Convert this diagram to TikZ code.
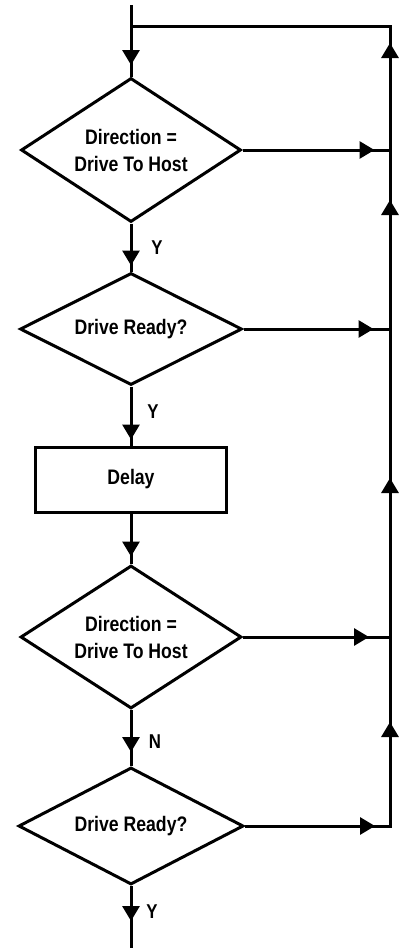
\documentclass[tikz,border=0pt]{standalone}
\usepackage{fontspec}
\setmainfont{Liberation Sans}
\usepackage{graphicx}
\usetikzlibrary{shapes.geometric,arrows.meta,decorations.markings}
\newcommand{\narrowtxt}[1]{\scalebox{0.84}[1]{#1}}
\begin{document}
\begin{tikzpicture}[x=1pt,y=-1pt,
  flow/.style={line width=3pt},
  tri/.tip={Triangle[width=17pt,length=15pt]},
  midarrow/.style={postaction={decorate},decoration={markings,mark=at position #1 with {\arrow{tri}}}},
  twoarrows/.style 2 args={postaction={decorate},decoration={markings,mark=at position #1 with {\arrow{tri}},mark=at position #2 with {\arrow{tri}}}},
  dec/.style={draw,shape=diamond,line width=3pt,inner sep=0pt,aspect=1.53,align=center,font=\fontsize{21}{27}\selectfont\bfseries},
  proc/.style={draw,rectangle,line width=3pt,minimum width=191pt,minimum height=65pt,font=\fontsize{21}{27}\selectfont\bfseries},
  lbl/.style={font=\fontsize{20}{20}\selectfont\bfseries,inner sep=0pt}
]
\useasboundingbox (0,0) rectangle (408,948);
\coordinate (start) at (131,5);
\coordinate (jtop) at (131,26);
\node[dec,minimum width=220pt,minimum height=144pt] (d1) at (131,150) {\narrowtxt{Direction =}\\\narrowtxt{Drive To Host}};
\node[dec,minimum width=222pt,minimum height=112pt] (d2) at (131,329) {\narrowtxt{Drive Ready?}};
\node[proc] (delay) at (131,479.5) {\narrowtxt{Delay}};
\node[dec,minimum width=221pt,minimum height=143pt] (d3) at (131,637) {\narrowtxt{Direction =}\\\narrowtxt{Drive To Host}};
\node[dec,minimum width=225pt,minimum height=117pt] (d4) at (131,826) {\narrowtxt{Drive Ready?}};
\coordinate (end) at (131,948);
\coordinate (r1) at (390,150);
\coordinate (r2) at (390,329);
\coordinate (r3) at (390,637);
\coordinate (r4) at (390,826);
\coordinate (rtop) at (390,26);
% main flow
\draw[flow,midarrow=60pt] (start) -- (d1.north);
\draw[flow,midarrow=42pt] (d1.south) -- (d2.north);
\draw[flow,midarrow=53pt] (d2.south) -- (delay.north);
\draw[flow,midarrow=43pt] (delay.south) -- (d3.north);
\draw[flow,midarrow=42pt] (d3.south) -- (d4.north);
\draw[flow,midarrow=35pt] (d4.south) -- (end);
% right branches
\draw[flow,midarrow=132pt] (d1.east) -- (r1);
\draw[flow,midarrow=130pt] (d2.east) -- (r2);
\draw[flow,midarrow=126pt] (d3.east) -- (r3);
\draw[flow,twoarrows={130pt}{249pt}] (d4.east) -- (r4) -- (r3);
\draw[flow,midarrow=159pt] (r3) -- (r2);
\draw[flow,midarrow=129pt] (r2) -- (r1);
\draw[flow,midarrow=107pt] (r1) -- (rtop) -- (jtop);
% labels
\node[lbl] (y1) at (157,248) {\narrowtxt{Y}};
\node[lbl] (y2) at (153,412) {\narrowtxt{Y}};
\node[lbl] (n1) at (155,742) {\narrowtxt{N}};
\node[lbl] (y3) at (152,912) {\narrowtxt{Y}};
\end{tikzpicture}
\end{document}
